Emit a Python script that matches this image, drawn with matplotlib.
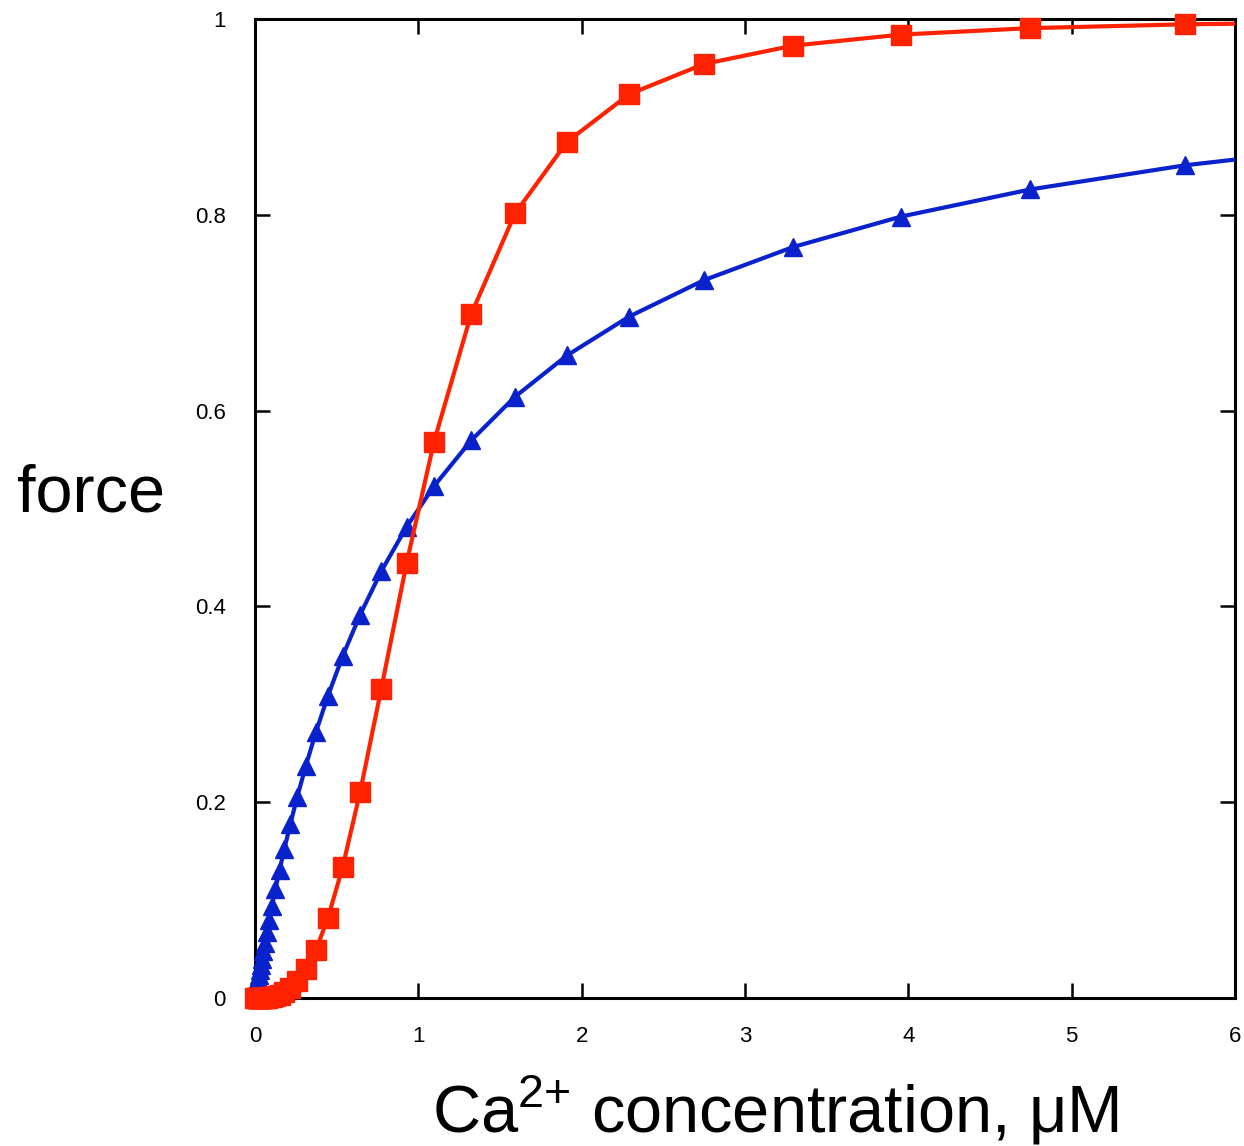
import matplotlib
matplotlib.use("Agg")
import matplotlib.pyplot as plt

plt.rcParams["font.family"] = ["Liberation Sans", "DejaVu Sans"]
plt.rcParams["mathtext.fontset"] = "custom"
plt.rcParams["mathtext.rm"] = "Liberation Sans"
plt.rcParams["mathtext.it"] = "Liberation Sans"
plt.rcParams["mathtext.default"] = "regular"

# Ca2+ concentration (uM), same points for both curves
ca = [0, 0.012, 0.014, 0.017, 0.020, 0.024, 0.029, 0.035, 0.042, 0.050,
      0.060, 0.072, 0.087, 0.104, 0.125, 0.150, 0.180, 0.216, 0.259, 0.311,
      0.373, 0.447, 0.537, 0.644, 0.773, 0.928, 1.096, 1.323, 1.592, 1.910,
      2.290, 2.749, 3.294, 3.955, 4.745, 5.694, 6.83]

# cooperative curve (red squares)
force_red = [0, 0.0, 0.0, 0.0, 0.0, 0.0, 0.0, 0.0, 0.0001, 0.0001,
             0.0002, 0.0004, 0.0007, 0.0011, 0.0019, 0.0034, 0.0058, 0.0100, 0.0171, 0.0292,
             0.0493, 0.0820, 0.1341, 0.2108, 0.3160, 0.4442, 0.5683, 0.6984, 0.8014, 0.8745,
             0.9231, 0.9541, 0.9728, 0.9841, 0.9907, 0.9946, 0.9969]

# non-cooperative curve (blue triangles)
force_blue = [0, 0.0119, 0.0138, 0.0167, 0.0196, 0.0234, 0.0282, 0.0338, 0.0403, 0.0476,
              0.0566, 0.0672, 0.0800, 0.0942, 0.1111, 0.1304, 0.1525, 0.1776, 0.2057, 0.2372,
              0.2717, 0.3089, 0.3494, 0.3917, 0.4360, 0.4813, 0.5229, 0.5695, 0.6142, 0.6564,
              0.6960, 0.7333, 0.7671, 0.7982, 0.8259, 0.8506, 0.8723]

xticks = [0, 1, 2, 3, 4, 5, 6]
yticks = [0, 0.2, 0.4, 0.6, 0.8, 1]
ytick_labels = ["0", "0.2", "0.4", "0.6", "0.8", "1"]

blue = "#0a22cc"
red = "#ff2200"

fig = plt.figure(figsize=(12.44, 11.46), dpi=100)
ax = fig.add_axes([0.205, 0.1291, 0.7878, 0.8543])

# lines are clipped at the frame, markers inside the range are not
ax.plot(ca, force_blue, color=blue, linewidth=3.0, zorder=3)
ax.plot(ca[:-1], force_blue[:-1], linestyle="none", color=blue, marker="^",
        markersize=13.5, zorder=3, clip_on=False)
ax.plot(ca, force_red, color=red, linewidth=3.0, zorder=4)
ax.plot(ca[:-1], force_red[:-1], linestyle="none", color=red, marker="s",
        markersize=14, zorder=4, clip_on=False)

ax.set_xlim(0, 6)
ax.set_ylim(0, 1)
ax.set_xticks(xticks)
ax.set_yticks(yticks)
ax.set_yticklabels(ytick_labels)

for s in ax.spines.values():
    s.set_linewidth(2.2)
ax.tick_params(direction="in", length=11, width=1.8, top=True, right=True,
               labelsize=16)
ax.tick_params(axis="x", pad=20)
ax.tick_params(axis="y", pad=21)

fig.text(91 / 1244, 1 - 495 / 1146, "force", fontsize=48, ha="center", va="center")
fig.text(775 / 1244, 1 - 1110 / 1146, "Ca$^{2{+}}$ concentration, \u03bcM",
         fontsize=48, ha="center", va="center")

fig.savefig("out.png", dpi=100)
